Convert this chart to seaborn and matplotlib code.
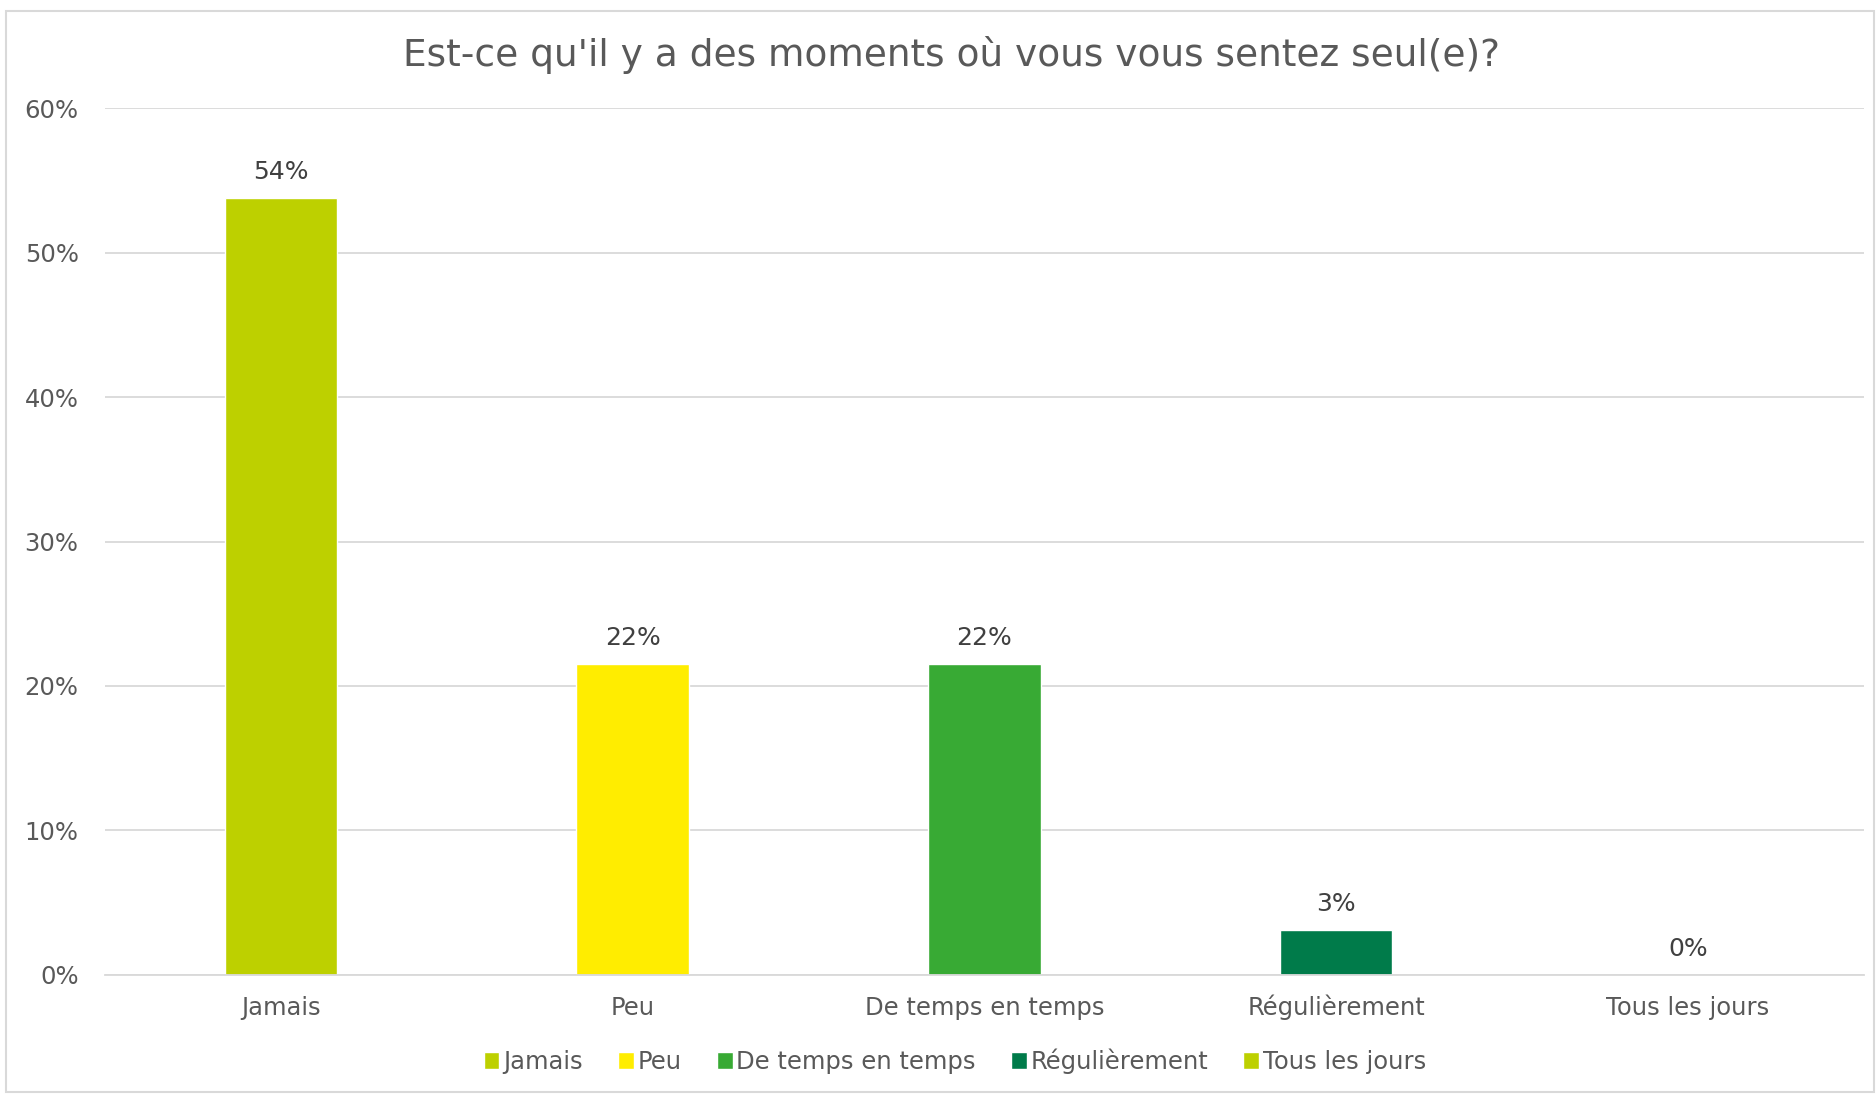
import seaborn as sns
import matplotlib.pyplot as plt
import pandas as pd
from matplotlib.patches import Patch, Rectangle
from matplotlib.ticker import PercentFormatter

# data (shares of respondents)
categories = ["Jamais", "Peu", "De temps en temps", "Régulièrement", "Tous les jours"]
shares = [0.538, 0.215, 0.215, 0.031, 0.0]
colors = ["#BDD000", "#FFED00", "#38AA34", "#007B4A", "#BDD000"]
title = "Est-ce qu'il y a des moments où vous vous sentez seul(e)?"

df = pd.DataFrame({"categorie": categories, "part": shares})

sns.set_style("white")
plt.rcParams["font.family"] = ["DejaVu Sans"]

fig = plt.figure(figsize=(18.76, 10.94), dpi=100)
ax = fig.add_axes([0.056, 0.109, 0.9375, 0.792])

sns.barplot(data=df, x="categorie", y="part", hue="categorie",
            palette=colors, width=0.32, saturation=1, legend=False, ax=ax)

for cont, v in zip(ax.containers, shares):
    ax.bar_label(cont, labels=[f"{v * 100:.0f}%"], padding=10,
                 fontsize=18, color="#404040")

ax.set_ylim(0, 0.6)
ax.set_yticks([0, 0.1, 0.2, 0.3, 0.4, 0.5, 0.6])
ax.yaxis.set_major_formatter(PercentFormatter(1.0, decimals=0))
ax.grid(axis="y", color="#D9D9D9", linewidth=1.3)
ax.set_axisbelow(True)
ax.set_xlabel("")
ax.set_ylabel("")
for s in ["top", "right", "left"]:
    ax.spines[s].set_visible(False)
ax.spines["bottom"].set_color("#D9D9D9")
ax.spines["bottom"].set_linewidth(1.3)
ax.tick_params(axis="both", length=0, labelsize=17.5, labelcolor="#595959")
ax.tick_params(axis="y", pad=19)
ax.tick_params(axis="x", pad=29)
for lab in ax.get_xticklabels():
    lab.set_verticalalignment("baseline")

fig.suptitle(title, x=0.507, y=0.967, fontsize=27, color="#595959")

handles = [Patch(facecolor=c, label=l) for c, l in zip(colors, categories)]
fig.legend(handles=handles, loc="center", bbox_to_anchor=(0.509, 0.03), ncol=5,
           frameon=False, fontsize=17.5, labelcolor="#595959",
           handlelength=0.65, handleheight=0.65, handletextpad=0.15, columnspacing=1.45)

fig.patches.append(Rectangle((0.003, 0.002), 0.996, 0.988, transform=fig.transFigure,
                             fill=False, edgecolor="#D9D9D9", linewidth=1.5))

fig.savefig("out.png", dpi=100)
